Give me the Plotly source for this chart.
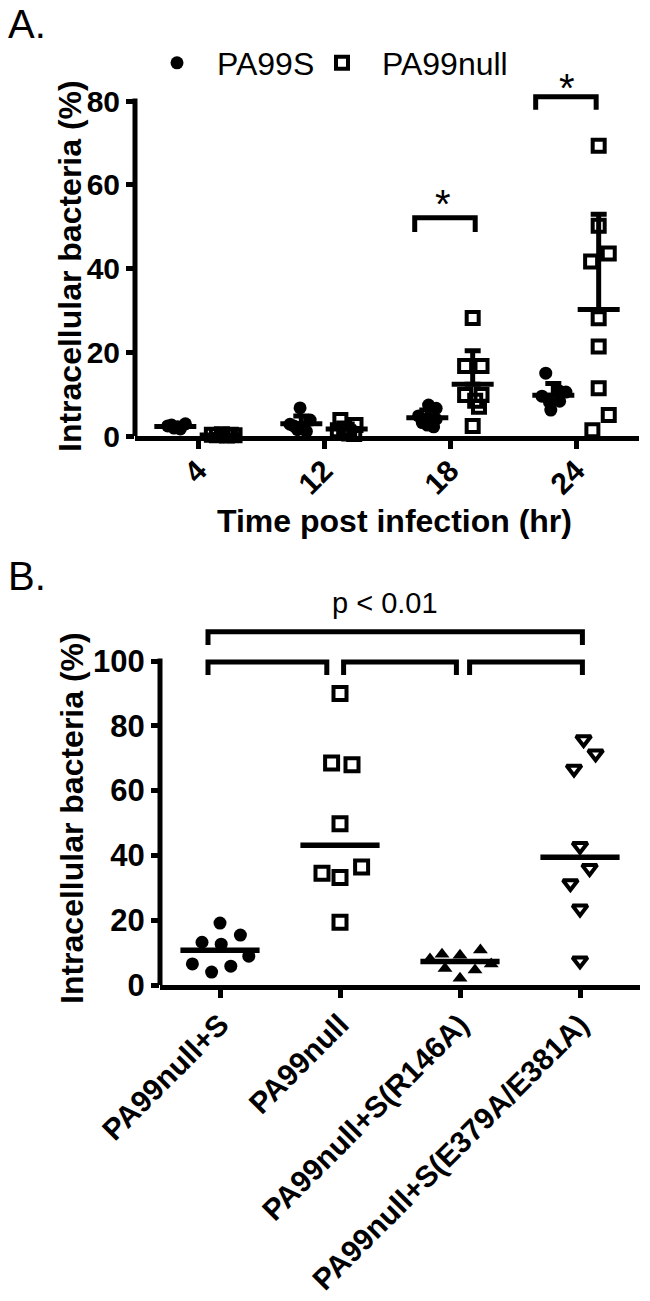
import numpy as np
import plotly.graph_objects as go

W, H = 650, 1301
FONT = "Liberation Sans, Arial, sans-serif"

# ---------------- Panel A data ----------------
time_labels = ["4", "12", "18", "24"]
pa99s_vals = [
    [2.4, 1.9, 2.2, 2.9, 1.7, 2.6],
    [6.7, 3.8, 2.4, 2.0, 1.5, 1.1, 2.8],
    [7.4, 6.6, 4.8, 4.3, 4.0, 3.2, 2.6, 2.2],
    [15.0, 10.7, 10.5, 9.5, 8.3, 8.0, 6.2],
]
pa99s_offs = [
    [-0.24, -0.19, -0.16, -0.10, -0.14, -0.21],
    [-0.19, -0.11, -0.24, -0.17, -0.21, -0.14, -0.27],
    [-0.17, -0.11, -0.25, -0.17, -0.11, -0.22, -0.18, -0.13],
    [-0.24, -0.13, -0.08, -0.27, -0.13, -0.21, -0.20],
]
pa99null_vals = [
    [0.3, 0.2, 0.4, 0.1, 0.3, 0.2],
    [3.8, 2.6, 1.4, 0.9, 0.5, 1.8, 0.6],
    [28.2, 16.7, 16.7, 9.8, 9.8, 8.4, 7.0, 2.4],
    [69.3, 50.2, 43.6, 41.7, 28.1, 21.4, 11.4, 5.0, 1.4],
]
pa99null_offs = [
    [0.11, 0.15, 0.19, 0.23, 0.26, 0.29],
    [0.13, 0.25, 0.11, 0.19, 0.24, 0.16, 0.20],
    [0.18, 0.12, 0.25, 0.12, 0.25, 0.20, 0.23, 0.18],
    [0.18, 0.18, 0.26, 0.12, 0.18, 0.18, 0.18, 0.26, 0.13],
]
group_shift = [-0.18, 0.18]

# ---------------- Panel B data ----------------
strains = ["PA99null+S", "PA99null", "PA99null+S(R146A)", "PA99null+S(E379A/E381A)"]
b_vals = [
    [19.1, 15.4, 13.2, 12.6, 8.9, 6.5, 5.8, 4.0],
    [90.0, 68.5, 68.0, 49.8, 36.4, 34.5, 33.2, 19.4],
    [8.0, 9.5, 9.2, 10.8, 6.5, 5.1, 4.6, 2.1],
    [75.8, 71.4, 66.7, 42.8, 36.0, 31.3, 23.5, 7.5],
]
b_offs = [
    [0.0, 0.17, -0.15, 0.01, 0.24, -0.23, 0.09, -0.07],
    [0.0, -0.07, 0.10, 0.0, 0.18, -0.15, 0.0, 0.0],
    [-0.25, -0.15, 0.0, 0.17, 0.26, -0.125, 0.125, 0.0],
    [0.03, 0.13, -0.05, 0.0, 0.08, -0.08, 0.0, 0.0],
]
b_symbols = ["circle", "square-open", "triangle-up", "triangle-down-open"]

fig = go.Figure()

def flat(vals, offs):
    xs, ys = [], []
    for i, (v, o) in enumerate(zip(vals, offs)):
        xs += [i + oo for oo in o]
        ys += list(v)
    return xs, ys

xs, ys = flat(pa99s_vals, pa99s_offs)
fig.add_trace(go.Scatter(x=xs, y=ys, mode="markers", name="PA99S", legend="legend",
                         marker=dict(symbol="circle", size=13, color="black", line=dict(width=0)),
                         cliponaxis=False, xaxis="x", yaxis="y"))
xs, ys = flat(pa99null_vals, pa99null_offs)
fig.add_trace(go.Scatter(x=xs, y=ys, mode="markers", name="PA99null", legend="legend2",
                         marker=dict(symbol="square-open", size=12, color="black", line=dict(width=4, color="black")),
                         cliponaxis=False, xaxis="x", yaxis="y"))

for vals, sh in ((pa99s_vals, group_shift[0]), (pa99null_vals, group_shift[1])):
    means = [float(np.mean(v)) for v in vals]
    sds = [float(np.std(v, ddof=1)) for v in vals]
    fig.add_trace(go.Scatter(
        x=[i + sh for i in range(len(vals))], y=means, mode="markers", showlegend=False,
        marker=dict(symbol="line-ew", size=30, line=dict(width=5, color="black")),
        error_y=dict(type="data", array=sds, arrayminus=[0] * len(sds), symmetric=False,
                     thickness=5, width=8, color="black"),
        cliponaxis=False, xaxis="x", yaxis="y"))

for i, (v, o, s) in enumerate(zip(b_vals, b_offs, b_symbols)):
    open_sym = s.endswith("open")
    fig.add_trace(go.Scatter(
        x=[i + oo for oo in o], y=v, mode="markers", showlegend=False,
        marker=dict(symbol=s, size=13, color="black",
                    line=dict(width=4 if open_sym else 0, color="black")),
        cliponaxis=False, xaxis="x2", yaxis="y2"))

mx, my = [], []
for i, v in enumerate(b_vals):
    m = float(np.median(v))
    mx += [i - 0.33, i + 0.33, None]
    my += [m, m, None]
fig.add_trace(go.Scatter(x=mx, y=my, mode="lines", showlegend=False,
                         line=dict(color="black", width=5.5), xaxis="x2", yaxis="y2"))

yA_bot, yA_top = 436, 436 - 90 * 4.1875
yB_bot, yB_top = 985, 985 - 125 * 3.24

tick_common = dict(ticks="outside", ticklen=8, tickwidth=5, tickcolor="black",
                   showgrid=False, zeroline=False, automargin=False)
legend_common = dict(orientation="h", xanchor="left", y=1 - 63 / H, yanchor="middle",
                     font=dict(size=32, family=FONT, color="black"), bgcolor="rgba(0,0,0,0)",
                     itemwidth=70)

fig.update_layout(
    width=W, height=H, margin=dict(l=0, r=0, t=0, b=0, autoexpand=False),
    plot_bgcolor="white", paper_bgcolor="white",
    font=dict(family=FONT, color="black"),
    showlegend=True,
    legend=dict(x=137 / W, **legend_common),
    legend2=dict(x=302 / W, **legend_common),
    xaxis=dict(domain=[135 / W, 639 / W], range=[-0.5, 3.5], tickvals=[0, 1, 2, 3],
               ticktext=time_labels, tickangle=-45, showline=True, linewidth=5, linecolor="black",
               tickfont=dict(size=30, weight="bold"), anchor="y", ticklabelstandoff=-8,
               **tick_common),
    yaxis=dict(domain=[1 - yA_bot / H, 1 - yA_top / H], range=[0, 90], tickvals=[0, 20, 40, 60, 80],
               showline=False, tickfont=dict(size=30, weight="bold"), anchor="x", **tick_common),
    xaxis2=dict(domain=[160 / W, 640 / W], range=[-0.5, 3.5], tickvals=[0, 1, 2, 3],
                ticktext=strains, tickangle=-45, showline=True, linewidth=5, linecolor="black",
                tickfont=dict(size=30, weight="bold"), anchor="y2", ticklabelstandoff=-3,
                **tick_common),
    yaxis2=dict(domain=[1 - yB_bot / H, 1 - yB_top / H], range=[0, 125],
                tickvals=[0, 20, 40, 60, 80, 100], showline=False,
                tickfont=dict(size=31, weight="bold"), anchor="x2", **tick_common),
)

shapes = []
shapes.append(dict(type="line", xref="x domain", yref="y", x0=0, x1=0, y0=0, y1=80.6,
                   line=dict(color="black", width=5)))
shapes.append(dict(type="line", xref="x2 domain", yref="y2", x0=0, x1=0, y0=0, y1=100.8,
                   line=dict(color="black", width=5)))

def bracket(xref, yref, x0, x1, ytop, yleg):
    return dict(type="path", xref=xref, yref=yref,
                path=f"M {x0},{yleg} L {x0},{ytop} L {x1},{ytop} L {x1},{yleg}",
                line=dict(color="black", width=5))

shapes.append(bracket("x", "y", 2 - 0.28, 2 + 0.20, 52.1, 48.7))
shapes.append(bracket("x", "y", 3 - 0.32, 3 + 0.16, 81.0, 77.9))
shapes.append(bracket("x2", "y2", -0.10, 3.02, 109.0, 104.9))
shapes.append(bracket("x2", "y2", -0.10, 0.89, 99.7, 95.7))
shapes.append(bracket("x2", "y2", 1.03, 1.97, 99.7, 95.7))
shapes.append(bracket("x2", "y2", 2.08, 3.02, 99.7, 95.7))
fig.update_layout(shapes=shapes)

ann = []
ann.append(dict(text="A.", x=6 / W, y=1 - 24 / H, xref="paper", yref="paper", xanchor="left",
                yanchor="middle", showarrow=False, font=dict(size=40)))
ann.append(dict(text="B.", x=6 / W, y=1 - 576 / H, xref="paper", yref="paper", xanchor="left",
                yanchor="middle", showarrow=False, font=dict(size=40)))
ann.append(dict(text="Intracellular bacteria (%)", x=70 / W, y=1 - 266 / H, xref="paper", yref="paper",
                xanchor="center", yanchor="middle",
                textangle=-90, showarrow=False, font=dict(size=32, weight="bold")))
ann.append(dict(text="Time post infection (hr)", x=395 / W, y=1 - 521 / H, xref="paper", yref="paper",
                xanchor="center", yanchor="middle",
                showarrow=False, font=dict(size=32, weight="bold")))
ann.append(dict(text="Intracellular bacteria (%)", x=72 / W, y=1 - 818 / H, xref="paper", yref="paper",
                xanchor="center", yanchor="middle",
                textangle=-90, showarrow=False, font=dict(size=32, weight="bold")))
ann.append(dict(text="p < 0.01", x=1.375, y=117.9, xref="x2", yref="y2", showarrow=False,
                font=dict(size=29)))
ann.append(dict(text="*", x=1.945, y=55.5, xref="x", yref="y", showarrow=False, font=dict(size=40)))
ann.append(dict(text="*", x=2.93, y=83.0, xref="x", yref="y", showarrow=False, font=dict(size=40)))
fig.update_layout(annotations=ann)

fig.write_html("out.html", config={"displayModeBar": False},
               post_script="document.body.style.margin='0px';")
